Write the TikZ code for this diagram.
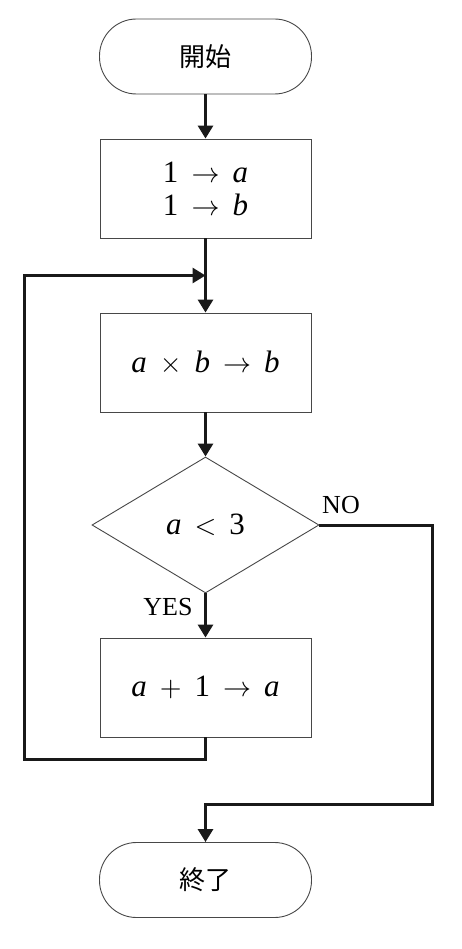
\documentclass[tikz,border=0pt]{standalone}
\usepackage{graphicx}
\usepackage{fontspec}
\setmainfont{Liberation Serif}
\newfontfamily\cjk{Noto Sans CJK JP}
\usetikzlibrary{arrows.meta,shapes.geometric}
\newcommand{\gp}{\hspace{0.42em}}
\newcommand{\op}[1]{{\fontsize{10}{10}\selectfont\scalebox{2.8}{$#1$}}}
\tikzset{
  boxline/.style={draw=black!72, line width=0.9pt},
  term/.style={boxline, rectangle, rounded corners=37pt, minimum width=212pt, minimum height=75pt, inner sep=0pt, font=\cjk\fontsize{26}{26}\selectfont},
  proc/.style={boxline, rectangle, minimum width=211pt, minimum height=99pt, inner sep=0pt, align=center, font=\fontsize{31}{33}\selectfont},
  decide/.style={boxline, diamond, minimum width=227pt, minimum height=136pt, inner sep=0pt, aspect=1.67, font=\fontsize{31}{33}\selectfont},
  flow/.style={draw=black!90, line width=3pt, -{Triangle[width=15pt,length=13pt]}},
  lab/.style={font=\fontsize{26}{26}\selectfont, inner sep=0pt}
}
\begin{document}
\begin{tikzpicture}[x=1pt,y=-1pt]
\useasboundingbox (0,0) rectangle (461,949);
\node[term] (start) at (205.5,56.5) {開始};
\node[proc] (b1) at (205.5,188.5) {1\gp\op{\to}\gp\textit{a}\\1\gp\op{\to}\gp\textit{b}};
\node[proc] (b2) at (205.5,362.5) {\textit{a}\gp\op{\times}\gp\textit{b}\gp\op{\to}\gp\textit{b}};
\node[decide] (dia) at (205.5,525) {\textit{a}\gp\op{<}\gp3};
\node[proc] (b3) at (205.5,687.5) {\textit{a}\gp\op{+}\gp1\gp\op{\to}\gp\textit{a}};
\node[term] (stop) at (205.5,880) {終了};
\node[lab] (no) at (341,505) {NO};
\node[lab] (yes) at (168,607) {YES};
\coordinate (join) at (205.5,275.5);
\coordinate (loopbot) at (24.5,759);
\coordinate (noR) at (432.5,804);
\coordinate (noB) at (205.5,804);
\draw[flow] (start.south) -- (b1.north);
\draw[flow] (b1.south) -- (b2.north);
\draw[flow] (b2.south) -- (dia.north);
\draw[flow] (dia.south) -- (b3.north);
\draw[flow] (b3.south) |- (loopbot) |- (join);
\draw[flow] (dia.east) -| (noR) -- (noB) -- (stop.north);
\end{tikzpicture}
\end{document}
